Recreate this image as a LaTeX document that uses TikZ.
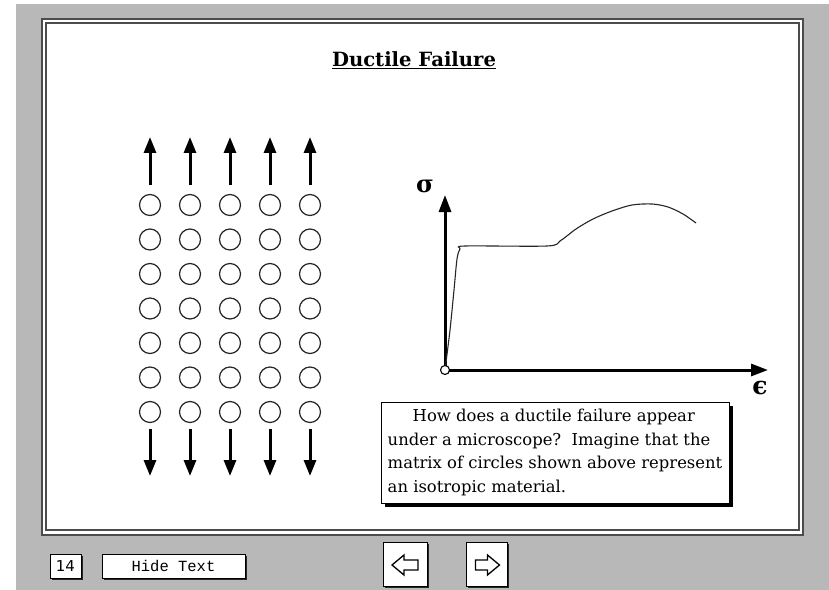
\documentclass[tikz,border=0pt]{standalone}
\usepackage{fontspec}
\setmainfont{DejaVu Serif}
\newfontfamily\uisans{DejaVu Sans}
\newfontfamily\uimono{Liberation Mono}
\usetikzlibrary{arrows.meta,shadows}

\definecolor{dither}{gray}{0.72}
\definecolor{frameline}{gray}{0.30}

\begin{document}
\begin{tikzpicture}[
                x=1bp, y=-1bp,
                % Estilos
                atom/.style={
                    circle,
                    draw=black!85,
                    line width=1.2bp,
                    minimum size=21bp,
                    inner sep=0pt
                },
                pull/.style={
                    line width=3bp,
                    -{Triangle[length=16bp,width=12bp]}
                },
                axis/.style={
                    line width=3bp,
                    -{Triangle[length=17bp,width=12bp]}
                },
                curve/.style={
                    line width=1.1bp,
                    black!85
                },
                button/.style={
                    draw=black,
                    fill=white,
                    line width=1bp,
                    inner sep=0pt,
                    drop shadow={shadow xshift=2bp, shadow yshift=-2bp, fill=black!85, opacity=1}
                },
                glyph/.style={
                    draw=black,
                    fill=white,
                    line width=1.3bp,
                    line join=miter
                },
                note/.style={
                    draw=black,
                    fill=white,
                    line width=1bp,
                    align=left,
                    inner xsep=5bp,
                    minimum width=348bp,
                    minimum height=101bp,
                    font=\fontsize{16.4bp}{23.5bp}\selectfont,
                    drop shadow={shadow xshift=3.5bp, shadow yshift=-3.5bp, fill=black, opacity=1}
                }
            ]

                % --- FONDO Y MARCO ---
                \useasboundingbox (0,0) rectangle (829,590);
                \fill[white] (0,0) rectangle (829,590);
                \fill[dither] (16,4) rectangle (829,590);
                \draw[frameline, line width=1.6bp, fill=white] (42,19) rectangle (803,535);
                \draw[frameline, line width=2bp] (46,23) rectangle (799,530);

                % --- TITULO ---
                \node[font=\bfseries\fontsize{19.6bp}{22bp}\selectfont] (title) at (414,60) {\underline{Ductile Failure}};

                % --- MATRIZ DE CIRCULOS ---
                \def\xFirst{150}
                \def\yFirst{205}
                \foreach \col in {1,...,5} {
                    \foreach \row in {1,...,7} {
                        \node[atom] (c\col-\row) at ({\xFirst+40*(\col-1)}, {\yFirst+34.5*(\row-1)}) {};
                    }
                    \coordinate (up\col) at ({\xFirst+40*(\col-1)}, 137);
                    \coordinate (dn\col) at ({\xFirst+40*(\col-1)}, 476);
                    \draw[pull, shorten <=9bp] (c\col-1) -- (up\col);
                    \draw[pull, shorten <=6bp] (c\col-7) -- (dn\col);
                }

                % --- CURVA TENSION-DEFORMACION ---
                \coordinate (O) at (445,370);
                \coordinate (ytip) at (445,195);
                \coordinate (xtip) at (768,370);
                \draw[axis] (O) -- (ytip);
                \draw[axis] (O) -- (xtip);
                \node[font=\bfseries\fontsize{24bp}{24bp}\selectfont] (sigma) at (425,186) {σ};
                \node[font=\bfseries\fontsize{25bp}{25bp}\selectfont] (eps) at (760,388) {ϵ};

                \draw[curve] plot[smooth, tension=0.5] coordinates {
                    (O) (450,330) (454,290) (457,259) (460,249) (465,246) (547,246)
                    (560,241) (576,229) (593,219) (612,211) (632,205) (652,204)
                    (668,207) (683,214) (696,223)};
                \node[circle, draw=black, fill=white, line width=1.1bp, minimum size=9bp, inner sep=0pt] (origin) at (O) {};

                % --- TEXTO ---
                \node[note] (question) at (555,452.5) {\hspace*{25bp}How does a ductile failure appear\\
                    under a microscope?\ \ Imagine that the\\
                    matrix of circles shown above represent\\
                    an isotropic material.};

                % --- BOTONES ---
                \node[button, minimum width=31bp, minimum height=24bp,
                      font=\uisans\fontsize{15bp}{15bp}\selectfont] (page) at (65.5,566) {14};
                \node[button, minimum width=143bp, minimum height=24bp,
                      font=\uimono\fontsize{15.5bp}{16bp}\selectfont] (hide) at (173.5,566) {Hide Text};
                \node[button, minimum width=44bp, minimum height=44bp] (prev) at (405,564) {};
                \node[button, minimum width=41bp, minimum height=44bp] (next) at (486.5,564) {};

                \begin{scope}[shift={(prev.center)}]
                    \draw[glyph] (-13,1) -- (-1,-9) -- (-1,-4) -- (13,-4) -- (13,6) -- (-1,6) -- (-1,11) -- cycle;
                \end{scope}
                \begin{scope}[shift={(next.center)}]
                    \draw[glyph] (13,1) -- (1,-9) -- (1,-4) -- (-11,-4) -- (-11,6) -- (1,6) -- (1,11) -- cycle;
                \end{scope}

            \end{tikzpicture}
\end{document}
